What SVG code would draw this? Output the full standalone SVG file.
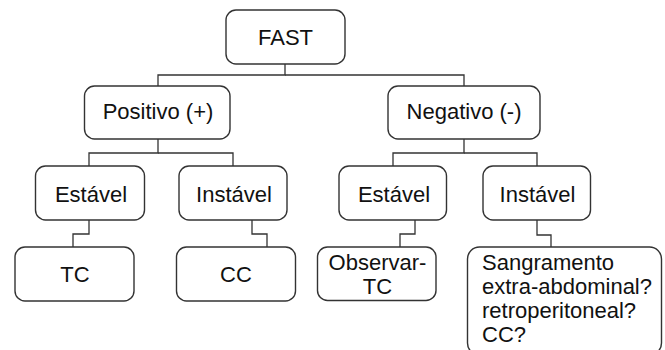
<svg xmlns="http://www.w3.org/2000/svg" width="665" height="350" viewBox="0 0 665 350">
<style>
.box{fill:#fff;stroke:#333;stroke-width:1.4}
.t{font-family:"Liberation Sans",Arial,sans-serif;font-size:22px;fill:#111;text-anchor:middle}
.tl{font-family:"Liberation Sans",Arial,sans-serif;font-size:22px;fill:#111}
.c{fill:none;stroke:#333;stroke-width:1.3}
</style>
<rect width="665" height="350" fill="#fff"/>
<g id="connectors">
<polyline class="c" points="285,64 285,75 158,75 158,86"/>
<polyline class="c" points="285,75 464,75 464,86"/>
<polyline class="c" points="158,139 158,153 89,153 89,166"/>
<polyline class="c" points="158,153 233,153 233,166"/>
<polyline class="c" points="464,139 464,153 393,153 393,166"/>
<polyline class="c" points="464,153 537,153 537,166"/>
<polyline class="c" points="89,220 89,234 73,234 73,247"/>
<polyline class="c" points="252,220 252,234 267,234 267,247"/>
<polyline class="c" points="415,220 415,234 400,234 400,247"/>
<polyline class="c" points="537,220 537,235 551,235 551,247"/>
</g>
<g id="fast"><rect class="box" x="226" y="10" width="119" height="54" rx="10"/><text class="t" x="285.5" y="45">FAST</text></g>
<g id="positivo"><rect class="box" x="84.5" y="86" width="145.5" height="53" rx="10"/><text class="t" x="158" y="119">Positivo (+)</text></g>
<g id="negativo"><rect class="box" x="388" y="86" width="152" height="53" rx="10"/><text class="t" x="464" y="119">Negativo (-)</text></g>
<g id="pos-estavel"><rect class="box" x="35.5" y="166" width="109" height="54" rx="10"/><text class="t" x="91" y="201.5">Estável</text></g>
<g id="pos-instavel"><rect class="box" x="179" y="166" width="108" height="54" rx="10"/><text class="t" x="234" y="201.5">Instável</text></g>
<g id="neg-estavel"><rect class="box" x="339" y="166" width="107.5" height="54" rx="10"/><text class="t" x="394" y="201.5">Estável</text></g>
<g id="neg-instavel"><rect class="box" x="483" y="166" width="107.5" height="54" rx="10"/><text class="t" x="537.5" y="201.5">Instável</text></g>
<g id="tc"><rect class="box" x="15" y="247" width="119" height="54" rx="10"/><text class="t" x="75" y="281.5">TC</text></g>
<g id="cc"><rect class="box" x="176.5" y="247" width="119" height="54" rx="10"/><text class="t" x="236" y="281.5">CC</text></g>
<g id="observar"><rect class="box" x="317.5" y="247" width="118.5" height="53.5" rx="10"/><text class="t" x="377.5" y="270">Observar-</text><text class="t" x="377.5" y="293.5">TC</text></g>
<g id="sangramento"><rect class="box" x="467.5" y="247" width="194" height="108" rx="12"/>
<text class="tl" x="482" y="269.5">Sangramento</text>
<text class="tl" x="482" y="293.5">extra-abdominal?</text>
<text class="tl" x="482" y="317.5">retroperitoneal?</text>
<text class="tl" x="482" y="341.5">CC?</text></g>
</svg>
